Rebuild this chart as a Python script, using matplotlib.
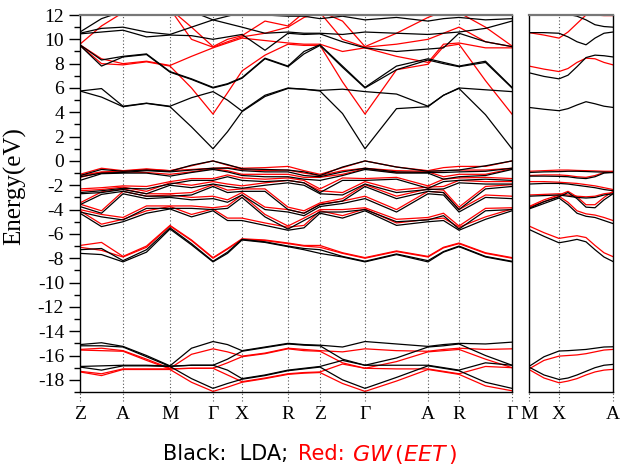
import matplotlib
matplotlib.use("Agg")
import matplotlib.pyplot as plt

plt.rcParams['axes.unicode_minus'] = False
plt.rcParams['mathtext.fontset'] = 'dejavusans'

# ---------------- k-path (main panel) ----------------
k_main = [0, 21.5, 43, 66.5, 90, 111.5, 133, 147.5, 162, 185, 208, 224, 240,
          262.5, 285, 316.5, 348, 363.5, 379, 405.5, 432]
hs_main_pos = [0, 43, 90, 133, 162, 208, 240, 285, 348, 379, 432]
hs_main_lab = ["Z", "A", "M", "Γ", "X", "R", "Z", "Γ", "A", "R", "Γ"]

# second panel
k_side = [0, 15, 30, 39, 48, 57, 66, 75, 84]
hs_side_pos = [0, 30, 84]
hs_side_lab = ["M", "X", "A"]

# ---------------- LDA (black), main panel ----------------
lda_cond = [
    [5.75, 5.25, 4.46, 4.73, 4.46, 2.8, 1.0, 2.4, 4.05, 5.3, 5.96, 5.9, 5.75, 3.9, 1.0, 4.3, 4.46, 5.4, 5.96, 3.8, 1.0],
    [5.75, 5.95, 4.5, 4.75, 4.5, 5.2, 5.7, 5.0, 4.1, 5.4, 6.0, 5.9, 5.8, 5.9, 5.7, 5.5, 4.5, 5.4, 6.0, 5.85, 5.7],
    [9.5, 7.8, 8.55, 8.75, 7.3, 6.7, 6.0, 6.3, 6.8, 8.4, 7.75, 8.8, 9.5, 7.7, 6.0, 7.5, 8.3, 8.0, 7.75, 8.1, 6.0],
    [9.55, 8.3, 8.6, 8.8, 7.35, 6.75, 6.05, 6.35, 6.85, 8.45, 7.8, 9.0, 9.55, 7.8, 6.05, 7.8, 8.4, 8.1, 7.8, 8.2, 6.05],
    [10.45, 10.6, 10.75, 10.2, 10.35, 10.3, 10.0, 10.2, 10.4, 9.1, 10.5, 10.4, 10.45, 9.8, 9.3, 9.0, 9.2, 9.3, 10.5, 9.8, 9.4],
    [10.5, 10.9, 11.0, 10.6, 10.4, 11.0, 11.6, 11.3, 11.0, 10.5, 10.6, 10.5, 10.5, 10.4, 10.6, 10.5, 10.4, 10.5, 10.6, 10.9, 11.5],
    [10.6, 11.7, 12.3, 12.2, 12.0, 12.3, 11.6, 11.9, 12.2, 12.0, 11.9, 11.9, 11.7, 11.9, 11.6, 11.8, 11.5, 11.7, 11.8, 11.6, 11.7],
]
lda_val = [
    [-1.2, -0.7, -0.85, -0.75, -0.85, -0.35, 0.0, -0.3, -0.65, -0.7, -0.75, -0.9, -1.2, -0.5, 0.0, -0.5, -0.85, -0.8, -0.75, -0.4, 0.0],
    [-1.3, -1.0, -0.95, -0.8, -0.9, -0.75, -0.6, -0.6, -0.8, -0.9, -0.9, -1.2, -1.3, -0.9, -0.6, -0.9, -0.95, -0.95, -0.9, -0.85, -0.6],
    [-1.6, -1.05, -1.0, -1.0, -1.25, -0.95, -0.7, -0.9, -1.2, -1.3, -1.3, -1.5, -1.6, -1.2, -0.7, -1.0, -1.0, -1.5, -1.3, -1.2, -0.7],
    [-2.6, -2.45, -2.25, -2.3, -1.9, -1.6, -1.6, -1.3, -1.6, -1.7, -1.6, -1.8, -2.6, -1.6, -1.6, -1.5, -2.25, -1.7, -1.6, -1.5, -1.6],
    [-2.7, -2.6, -2.35, -2.7, -2.0, -2.2, -1.9, -2.1, -2.25, -2.0, -1.8, -2.0, -2.7, -2.8, -1.9, -2.6, -2.35, -2.3, -1.8, -1.9, -1.9],
    [-3.6, -2.75, -2.5, -2.9, -2.9, -2.8, -2.1, -2.6, -2.5, -2.5, -4.0, -4.3, -3.6, -3.3, -2.1, -3.1, -2.5, -2.6, -4.0, -2.3, -2.1],
    [-3.75, -4.3, -2.7, -3.1, -3.0, -3.2, -3.1, -3.4, -2.8, -4.0, -4.2, -4.5, -3.75, -3.5, -3.1, -4.2, -2.7, -2.8, -4.2, -3.0, -3.1],
    [-4.2, -4.6, -4.85, -3.9, -3.9, -3.9, -4.0, -3.9, -3.0, -4.6, -5.6, -4.9, -4.2, -4.2, -4.0, -5.0, -4.85, -4.5, -5.6, -4.1, -4.0],
    [-4.3, -5.4, -5.0, -4.3, -3.95, -4.6, -4.1, -4.9, -4.9, -5.3, -5.7, -5.5, -4.3, -4.7, -4.1, -5.3, -5.0, -4.9, -5.7, -4.8, -4.1],
    [-7.3, -7.2, -8.2, -7.3, -5.5, -6.8, -8.25, -7.5, -6.45, -6.65, -7.0, -7.2, -7.3, -7.85, -8.25, -7.65, -8.2, -7.45, -7.0, -7.85, -8.25],
    [-7.6, -7.7, -8.3, -7.5, -5.6, -6.9, -8.3, -7.6, -6.5, -6.7, -7.05, -7.3, -7.6, -7.9, -8.3, -7.7, -8.3, -7.5, -7.05, -7.9, -8.3],
]
lda_deep = [
    [-15.1, -14.95, -15.25, -16.0, -16.85, -15.4, -14.85, -15.1, -15.6, -15.3, -15.0, -15.1, -15.15, -15.3, -14.85, -15.05, -15.25, -15.1, -15.0, -15.05, -14.9],
    [-15.2, -15.2, -15.3, -16.1, -16.9, -16.8, -16.8, -16.3, -15.65, -15.35, -15.05, -15.15, -15.2, -16.3, -16.8, -16.2, -15.3, -15.2, -15.05, -16.0, -16.8],
    [-16.9, -16.85, -16.8, -16.8, -16.87, -16.8, -16.8, -17.2, -17.9, -17.6, -17.2, -17.05, -16.9, -16.4, -16.8, -16.8, -16.8, -17.0, -17.2, -16.6, -16.8],
    [-16.95, -17.2, -16.85, -16.85, -16.9, -17.9, -18.7, -18.3, -17.95, -17.65, -17.25, -17.1, -16.95, -18.0, -18.7, -17.8, -16.85, -17.05, -17.25, -18.2, -18.7],
]

# ---------------- GW(EET) (red), main panel ----------------
gw_cond = [
    [9.5, 8.0, 7.9, 8.15, 7.8, 6.0, 3.85, 5.6, 7.4, 8.7, 9.6, 9.5, 9.5, 6.5, 3.85, 7.5, 7.95, 9.4, 9.6, 6.6, 3.85],
    [9.55, 8.4, 8.0, 8.2, 7.85, 8.6, 9.3, 9.7, 10.1, 9.9, 9.7, 9.6, 9.6, 9.0, 9.3, 8.6, 8.1, 9.6, 9.7, 9.3, 9.3],
    [9.6, 11.1, 12.2, 12.5, 12.5, 10.0, 9.35, 9.8, 10.2, 10.5, 11.0, 11.8, 12.2, 10.0, 9.35, 9.6, 10.0, 10.5, 11.0, 9.8, 9.4],
    [12.3, 12.2, 12.2, 12.5, 12.5, 11.0, 9.4, 10.0, 10.3, 11.5, 11.1, 12.2, 12.3, 11.5, 9.4, 10.5, 11.8, 12.3, 12.2, 11.0, 9.45],
]
gw_val = [
    [-1.1, -0.6, -0.8, -0.65, -0.8, -0.4, 0.0, -0.35, -0.6, -0.55, -0.45, -0.8, -1.1, -0.55, 0.0, -0.5, -0.8, -0.55, -0.45, -0.45, 0.0],
    [-1.2, -0.9, -0.85, -0.7, -0.8, -0.7, -0.6, -0.55, -0.7, -0.8, -0.75, -1.0, -1.2, -0.8, -0.6, -0.8, -0.85, -0.8, -0.75, -0.75, -0.6],
    [-1.35, -0.95, -0.9, -0.95, -1.1, -0.9, -0.65, -0.8, -1.1, -1.1, -1.1, -1.35, -1.35, -1.1, -0.65, -0.95, -0.9, -1.3, -1.1, -1.1, -0.65],
    [-2.3, -2.2, -2.05, -2.1, -1.7, -1.45, -1.45, -1.15, -1.4, -1.5, -1.4, -1.6, -2.3, -1.4, -1.45, -1.35, -2.05, -1.5, -1.4, -1.35, -1.45],
    [-2.45, -2.35, -2.15, -2.5, -1.8, -2.0, -1.7, -1.9, -2.05, -1.8, -1.6, -1.8, -2.45, -2.6, -1.7, -2.4, -2.15, -2.1, -1.6, -1.7, -1.7],
    [-3.45, -2.55, -2.3, -2.7, -2.7, -2.6, -1.95, -2.4, -2.3, -2.3, -3.8, -4.1, -3.45, -3.1, -1.95, -2.9, -2.3, -2.4, -3.8, -2.1, -1.95],
    [-3.55, -4.1, -2.5, -2.9, -2.8, -3.0, -2.9, -3.2, -2.6, -3.8, -4.0, -4.3, -3.55, -3.3, -2.9, -4.0, -2.5, -2.6, -4.0, -2.8, -2.9],
    [-4.0, -4.4, -4.65, -3.7, -3.7, -3.7, -3.85, -3.7, -2.8, -4.4, -5.35, -4.7, -4.0, -4.0, -3.85, -4.8, -4.65, -4.3, -5.35, -3.9, -3.85],
    [-4.1, -5.2, -4.8, -4.1, -3.75, -4.4, -3.95, -4.7, -4.7, -5.1, -5.45, -5.3, -4.1, -4.5, -3.95, -5.1, -4.8, -4.7, -5.45, -4.6, -3.95],
    [-6.95, -6.7, -7.85, -7.0, -5.3, -6.5, -7.95, -7.2, -6.4, -6.5, -6.75, -6.95, -6.95, -7.55, -7.95, -7.4, -7.85, -7.1, -6.75, -7.55, -7.95],
    [-7.1, -7.35, -7.9, -7.1, -5.35, -6.55, -8.0, -7.25, -6.45, -6.55, -6.8, -7.0, -7.1, -7.6, -8.0, -7.45, -7.9, -7.15, -6.8, -7.6, -8.0],
]
gw_deep = [
    [-15.5, -15.4, -15.6, -16.3, -17.05, -15.9, -15.45, -15.7, -16.05, -15.8, -15.4, -15.5, -15.6, -15.7, -15.45, -15.6, -15.65, -15.5, -15.4, -15.5, -15.45],
    [-15.55, -15.6, -15.65, -16.4, -17.1, -17.05, -17.05, -16.6, -16.1, -15.85, -15.45, -15.6, -15.65, -16.6, -17.05, -16.5, -15.7, -15.6, -15.5, -16.3, -17.0],
    [-17.3, -17.5, -17.1, -17.1, -17.1, -17.05, -17.05, -17.6, -18.15, -17.85, -17.5, -17.4, -17.35, -16.7, -17.05, -17.1, -17.1, -17.3, -17.5, -16.9, -17.0],
    [-17.35, -17.65, -17.15, -17.15, -17.15, -18.2, -18.95, -18.6, -18.2, -17.9, -17.55, -17.45, -17.4, -18.3, -18.95, -18.1, -17.15, -17.35, -17.55, -18.5, -18.9],
]

# ---------------- side panel M-X-A ----------------
lda_side = [
    [4.4, 4.25, 4.13, 4.3, 4.6, 4.87, 4.7, 4.5, 4.4],
    [7.25, 6.95, 6.75, 7.05, 7.75, 8.5, 8.7, 8.65, 8.55],
    [10.55, 10.55, 10.5, 10.2, 9.8, 9.55, 10.1, 10.5, 10.6],
    [12.3, 12.3, 12.2, 12.05, 11.9, 11.6, 11.2, 11.05, 11.0],
    [-0.95, -0.9, -0.88, -0.85, -0.85, -0.87, -0.9, -0.92, -0.95],
    [-1.25, -1.25, -1.27, -1.3, -1.4, -1.45, -1.3, -1.0, -0.95],
    [-1.9, -1.85, -1.85, -1.9, -2.0, -2.1, -2.2, -2.35, -2.45],
    [-2.9, -2.85, -2.8, -2.9, -3.0, -3.05, -3.0, -2.8, -2.7],
    [-3.9, -3.35, -2.95, -2.6, -3.1, -3.8, -3.85, -3.2, -2.7],
    [-3.95, -3.5, -3.05, -3.6, -4.3, -4.55, -4.65, -4.9, -5.15],
    [-5.63, -6.2, -6.73, -6.6, -6.45, -6.65, -7.3, -7.9, -8.27],
    [-16.9, -16.1, -15.63, -15.6, -15.55, -15.5, -15.4, -15.3, -15.28],
    [-16.95, -17.6, -17.97, -17.85, -17.6, -17.3, -17.0, -16.8, -16.73],
]
gw_side = [
    [7.8, 7.55, 7.35, 7.6, 8.1, 8.45, 8.4, 8.1, 7.9],
    [10.55, 10.35, 10.1, 10.6, 11.3, 12.0, 12.4, 12.5, 12.5],
    [12.5, 12.5, 12.5, 12.5, 12.4, 12.2, 12.0, 11.95, 11.95],
    [-0.85, -0.8, -0.75, -0.75, -0.78, -0.8, -0.82, -0.85, -0.85],
    [-1.2, -1.15, -1.15, -1.2, -1.3, -1.35, -1.2, -0.95, -0.9],
    [-1.7, -1.7, -1.75, -1.8, -1.85, -1.95, -2.05, -2.2, -2.35],
    [-2.8, -2.75, -2.7, -2.8, -2.9, -2.95, -2.9, -2.7, -2.6],
    [-3.75, -3.2, -2.8, -2.5, -2.95, -3.6, -3.6, -3.0, -2.5],
    [-3.8, -3.35, -2.9, -3.4, -4.1, -4.35, -4.45, -4.65, -4.9],
    [-5.35, -5.9, -6.37, -6.25, -6.15, -6.3, -6.95, -7.55, -7.87],
    [-17.1, -16.4, -16.05, -16.0, -15.95, -15.85, -15.7, -15.55, -15.5],
    [-17.15, -17.85, -18.24, -18.1, -17.9, -17.6, -17.35, -17.2, -17.14],
]

y_min, y_max = -19, 12
y_major = list(range(-18, 13, 2))
y_minor = list(range(-19, 13, 1))

# ---------------- figure ----------------
W, H = 621, 467
fig = plt.figure(figsize=(W / 100, H / 100), dpi=100)

def frac_box(x0, y0, x1, y1):
    return [x0 / W, 1 - y1 / H, (x1 - x0) / W, (y1 - y0) / H]

ax = fig.add_axes(frac_box(80, 15, 512, 392))
ax2 = fig.add_axes(frac_box(529, 15, 613, 392))

lw = 0.9
for band in gw_cond + gw_val + gw_deep:
    ax.plot(k_main, band, color="#ff0000", lw=lw)
for band in lda_cond + lda_val + lda_deep:
    ax.plot(k_main, band, color="black", lw=lw)
for band in gw_side:
    ax2.plot(k_side, band, color="#ff0000", lw=lw)
for band in lda_side:
    ax2.plot(k_side, band, color="black", lw=lw)

serif = ["Liberation Serif", "DejaVu Serif"]

for a, kp, labs in ((ax, hs_main_pos, hs_main_lab), (ax2, hs_side_pos, hs_side_lab)):
    a.set_ylim(y_min, y_max)
    a.set_xlim(kp[0], kp[-1])
    for i, x in enumerate(kp):
        top = y_max if 0 < i < len(kp) - 1 else y_min
        a.plot([x, x], [y_min - 0.7, top], ls=(0, (1, 2)), color="#555555",
               lw=0.8, clip_on=False, zorder=0)
    a.set_xticks(kp)
    a.set_xticklabels(labs, fontfamily=serif, fontsize=14)
    a.tick_params(axis="x", length=0, pad=10)
    for s in a.spines.values():
        s.set_linewidth(1.0)
    a.spines["top"].set_color("#777777")
    a.spines["top"].set_linewidth(1.6)

ax.set_yticks(y_major)
ax.set_yticks(y_minor, minor=True)
ax.set_yticklabels([str(v) for v in y_major], fontfamily=serif, fontsize=14)
ax.tick_params(axis="y", which="major", length=8, width=1.0, direction="out")
ax.tick_params(axis="y", which="minor", length=4, width=1.0, direction="out")
ax.set_ylabel("Energy(eV)", fontfamily=serif, fontsize=18)
ax.yaxis.set_label_coords(-0.125, 0.545)
ax2.set_yticks([])

# caption
fig.text(163 / W, 1 - 454 / H, "Black:  LDA;", color="black", fontsize=15,
         fontfamily="DejaVu Sans", ha="left", va="center")
fig.text(298 / W, 1 - 454 / H, "Red:", color="#ff0000", fontsize=15,
         fontfamily="DejaVu Sans", ha="left", va="center")
fig.text(352 / W, 1 - 454 / H, r"$GW\,(EET\,)$", color="#ff0000", fontsize=16,
         ha="left", va="center")

fig.savefig("out.png", dpi=100)
